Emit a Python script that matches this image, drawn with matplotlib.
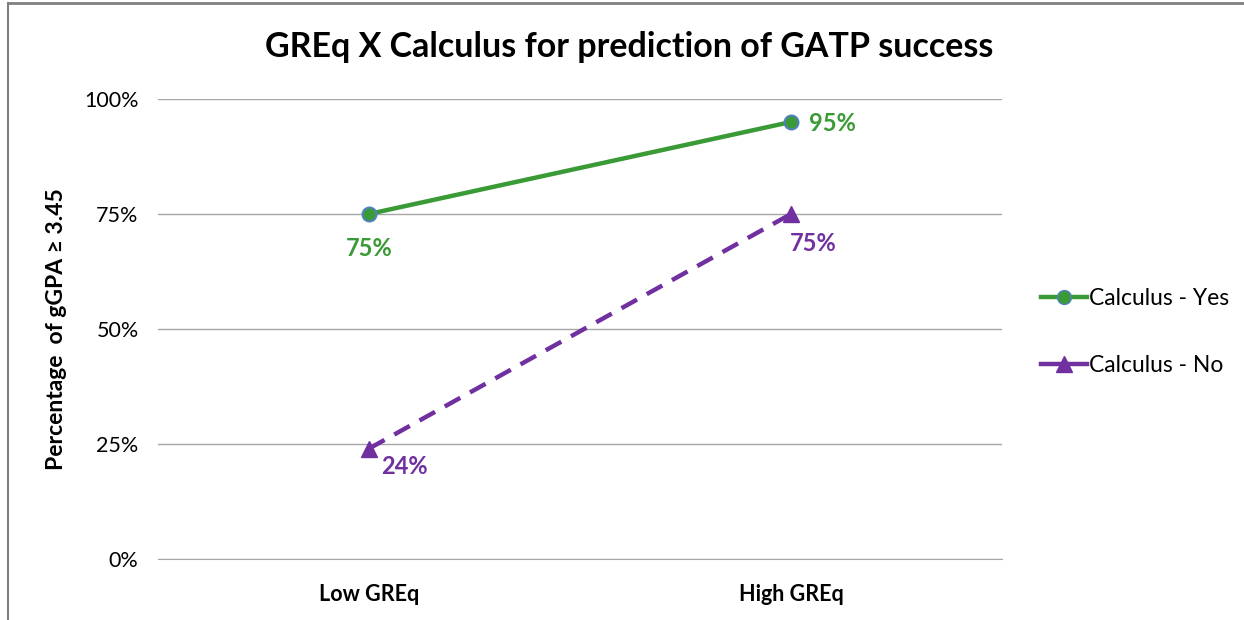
import matplotlib.pyplot as plt
from matplotlib.lines import Line2D

categories = ['Low GREq', 'High GREq']
calc_yes = [0.75, 0.95]
calc_no = [0.24, 0.75]
yticks = [0, 0.25, 0.5, 0.75, 1.0]
ytick_labels = ['0%', '25%', '50%', '75%', '100%']

plt.rcParams['font.family'] = ['Lato', 'DejaVu Sans']

green = '#3A9A35'
purple = '#7030A0'

fig = plt.figure(figsize=(12.44, 6.2), dpi=100)
ax = fig.add_axes([0.127, 0.0984, 0.6785, 0.742])

x = list(range(len(categories)))
ax.plot(x, calc_yes, color=green, lw=3.2, marker='o', ms=10,
        mfc=green, mec='#4F81BD', mew=1.5, label='Calculus - Yes', zorder=3)
ax.plot(x, calc_no, color=purple, lw=3.2, ls=(0, (4, 2.5)), marker='^', ms=11,
        mfc=purple, mec=purple, label='Calculus - No', zorder=3)

# data labels
lbl = dict(textcoords='offset points', fontsize=17, fontweight='bold')
ax.annotate('75%', (x[0], calc_yes[0]), xytext=(0, -25), ha='center', va='center',
            color=green, **lbl)
ax.annotate('95%', (x[1], calc_yes[1]), xytext=(13, -1), ha='left', va='center',
            color=green, **lbl)
ax.annotate('75%', (x[1], calc_no[1]), xytext=(-1, -21), ha='left', va='center',
            color=purple, **lbl)
ax.annotate('24%', (x[0], calc_no[0]), xytext=(9, -13), ha='left', va='center',
            color=purple, **lbl)

ax.set_xlim(-0.5, 1.5)
ax.set_ylim(0, 1)
ax.set_xticks(x)
ax.set_xticklabels(categories, fontsize=15.5, fontweight='bold')
ax.set_yticks(yticks)
ax.set_yticklabels(ytick_labels, fontsize=15.5)
ax.tick_params(axis='both', length=0, pad=14)
ax.tick_params(axis='x', pad=18)
ax.grid(axis='y', color='#A6A6A6', lw=1)
ax.set_axisbelow(True)
for s in ['top', 'right', 'left']:
    ax.spines[s].set_visible(False)
ax.spines['bottom'].set_color('#A6A6A6')

ax.set_ylabel('Percentage  of gGPA \u2265 3.45', fontsize=16.5, fontweight='bold', labelpad=12)
fig.text(0.506, 0.924, 'GREq X Calculus for prediction of GATP success',
         ha='center', va='center', fontsize=24.5, fontweight='bold')

handles = [Line2D([], [], color=green, lw=3.2, marker='o', ms=10, mfc=green, mec='#4F81BD'),
           Line2D([], [], color=purple, lw=3.2, marker='^', ms=11, mfc=purple, mec=purple)]
fig.legend(handles, ['Calculus - Yes', 'Calculus - No'], loc='center left',
           bbox_to_anchor=(0.82, 0.465), frameon=False, fontsize=16.5,
           handlelength=2.0, handletextpad=0.1, labelspacing=2.0)

# frame edges of the screenshot
fig.add_artist(Line2D([0.0065, 0.0065], [0, 0.995], transform=fig.transFigure, color='#808080', lw=1.5))
fig.add_artist(Line2D([0.0065, 1], [0.995, 0.995], transform=fig.transFigure, color='#808080', lw=2))

fig.savefig('out.png')
